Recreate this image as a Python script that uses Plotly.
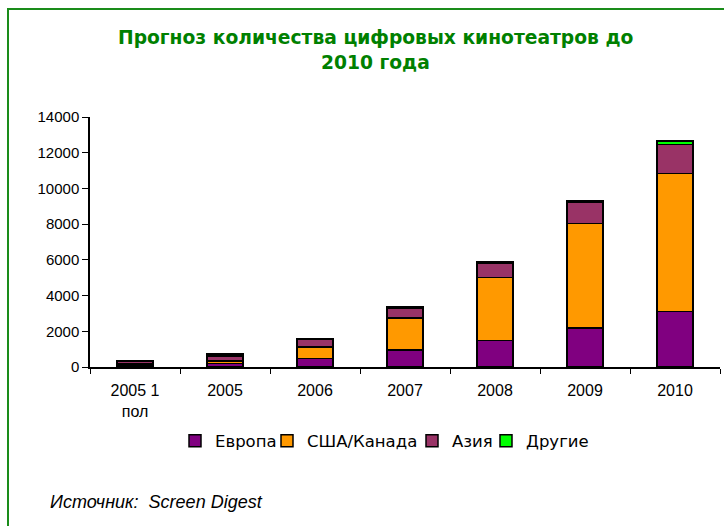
import plotly.graph_objects as go

categories = ["2005 1<br>пол", "2005", "2006", "2007", "2008", "2009", "2010"]
europe = [100, 200, 480, 950, 1480, 2180, 3100]
usa_canada = [80, 130, 640, 1800, 3520, 5870, 7750]
asia = [150, 300, 430, 550, 820, 1180, 1620]
other = [30, 100, 40, 80, 100, 100, 180]

series_names = ["Европа", "США/Канада", "Азия", "Другие"]
series_colors = ["#800080", "#FF9900", "#993366", "#00FF00"]
series_values = [europe, usa_canada, asia, other]

y_ticks = [0, 2000, 4000, 6000, 8000, 10000, 12000, 14000]
y_tick_labels = ["0", "2000", "4000", "6000", "8000", "10000", "12000", "14000"]

title_line1 = "Прогноз количества цифровых кинотеатров до"
title_line2 = "2010 года"
source_text = "<i>Источник:  Screen Digest</i>"

# legend text start positions (px) for each entry
legend_text_px = [215, 307, 452, 526]
legend_ids = ["legend", "legend2", "legend3", "legend4"]

fig = go.Figure()
for name, color, vals, lid in zip(series_names, series_colors, series_values, legend_ids):
    fig.add_trace(go.Bar(
        x=categories, y=vals, name=name, width=0.4, legend=lid,
        marker=dict(color=color, line=dict(color="black", width=1.5)),
    ))

legend_layout = {}
for lid, px in zip(legend_ids, legend_text_px):
    legend_layout[lid] = dict(
        orientation="h", x=(px - 40 - 90) / 630, xanchor="left",
        y=(367 - 441) / 250, yanchor="middle",
        font=dict(family="DejaVu Sans, Verdana", size=16.5, color="black"),
        itemwidth=30, bgcolor="rgba(0,0,0,0)",
    )

fig.update_layout(
    width=724, height=526,
    margin=dict(l=90, r=4, t=117, b=159),
    barmode="stack",
    plot_bgcolor="white", paper_bgcolor="white",
    font=dict(family="Liberation Sans, Arial", size=15, color="black"),
    showlegend=True,
    xaxis=dict(
        type="category", showline=True, linecolor="black", linewidth=1.5,
        ticks="outside", tickson="boundaries", ticklen=5, tickcolor="black",
        showgrid=False, tickfont=dict(size=16), ticklabelstandoff=8,
    ),
    yaxis=dict(
        range=[0, 14000], tickvals=y_ticks, ticktext=y_tick_labels,
        showline=True, linecolor="black",
        linewidth=1.5, ticks="outside", ticklen=6, tickcolor="black",
        showgrid=False, zeroline=False, tickfont=dict(size=15),
    ),
    shapes=[dict(
        type="rect", xref="paper", yref="paper",
        x0=(8 - 90) / 630, x1=1.2, y0=-0.8, y1=(367 - 9) / 250,
        line=dict(color="#1a8c1a", width=2), fillcolor="rgba(0,0,0,0)", layer="below",
    )],
    annotations=[
        dict(text=f"<b>{title_line1}</b>", xref="paper", yref="paper",
             x=(375 - 90) / 630, y=(367 - 38) / 250, xanchor="center", yanchor="middle",
             showarrow=False, font=dict(family="DejaVu Sans, Verdana", size=18.7, color="#008000")),
        dict(text=f"<b>{title_line2}</b>", xref="paper", yref="paper",
             x=(375 - 90) / 630, y=(367 - 62) / 250, xanchor="center", yanchor="middle",
             showarrow=False, font=dict(family="DejaVu Sans, Verdana", size=18.7, color="#008000")),
        dict(text=source_text, xref="paper", yref="paper",
             x=(48 - 90) / 630, y=(367 - 502) / 250, xanchor="left", yanchor="middle",
             showarrow=False, font=dict(family="Liberation Sans, Arial", size=18, color="black")),
    ],
    **legend_layout,
)

fig.write_html("out.html")
